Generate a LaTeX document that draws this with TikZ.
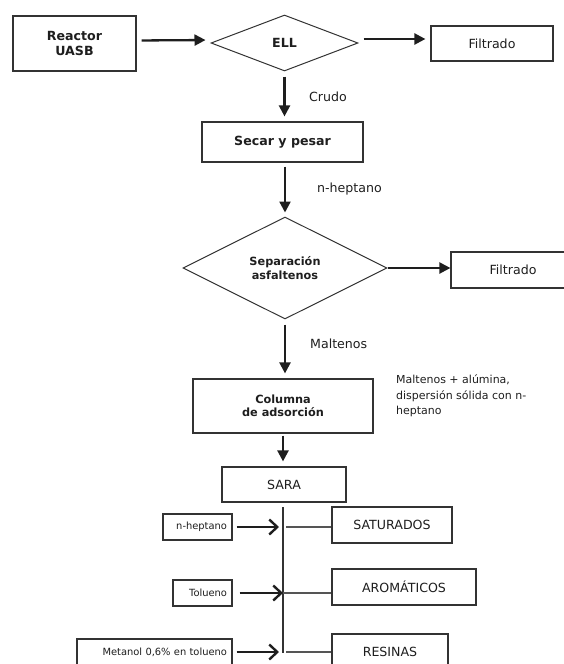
\documentclass[tikz,border=0pt]{standalone}
\usepackage{fontspec}
\setmainfont{DejaVu Sans}
\usetikzlibrary{arrows.meta,shapes.geometric}
\definecolor{ink}{HTML}{1E1E1E}
\definecolor{edge}{HTML}{333333}
\definecolor{wire}{HTML}{555555}
\newcommand{\mainsize}{\fontsize{12.6}{15}\selectfont}
\newcommand{\midsize}{\fontsize{11.3}{13.5}\selectfont}
\newcommand{\notesize}{\fontsize{11}{15.5}\selectfont}
\newcommand{\tinysize}{\fontsize{9.9}{12}\selectfont}
\tikzset{
 every node/.append style={font=\mainsize,text=ink,align=center},
 box/.style={draw=edge,fill=white,line width=1.2pt,inner sep=0pt},
 stage/.style={box,font=\mainsize\bfseries},
 decision/.style={draw=edge,fill=white,line width=1pt,shape=diamond,aspect=2,inner sep=0pt,font=\mainsize\bfseries},
 reagent/.style={box,font=\tinysize,align=right,inner xsep=5pt,minimum height=26pt},
 word/.style={inner sep=1pt,anchor=west},
 flow/.style={-{Triangle[length=11pt,width=11pt]},draw=ink,line width=2.3pt,shorten <=5pt,shorten >=5pt},
 feed/.style={-{Straight Barb[length=8pt,width=15pt]},draw=ink,line width=2.4pt,shorten <=4pt},
 trunk/.style={draw=edge,line width=1.3pt},
 tap/.style={draw=wire,line width=1.1pt},
}

\begin{document}
\begin{tikzpicture}[x=1pt,y=-1pt]
\useasboundingbox (0,0) rectangle (564,664);

% main line
\node[stage,minimum width=123pt,minimum height=55pt] (reactor) at (74.5,43.5) {Reactor\\UASB};
\node[decision,minimum width=147pt,minimum height=56pt] (ell) at (284.5,43) {ELL};
\node[box,minimum width=122pt,minimum height=35pt] (filtA) at (492,43.5) {Filtrado};
\node[stage,minimum width=161pt,minimum height=40pt] (secar) at (282.5,142) {Secar y pesar};
\node[decision,font=\midsize\bfseries,minimum width=204pt,minimum height=102pt] (sep) at (285,268) {Separación\\asfaltenos};
\node[box,minimum width=124pt,minimum height=36pt] (filtB) at (513,270) {Filtrado};
\node[stage,font=\midsize\bfseries,minimum width=180pt,minimum height=54pt] (column) at (283,406) {Columna\\de adsorción};
\node[word,anchor=north west,align=left,font=\notesize] (note) at (395,373.5) {Maltenos + alúmina,\\dispersión sólida con n-\\heptano};
\node[box,minimum width=124pt,minimum height=35pt] (sara) at (284,484.5) {SARA};

\draw[flow] ([yshift=3pt]reactor.east) -- ([yshift=3pt]ell.west);
\draw[flow] ([yshift=4pt]ell.east) -- ([yshift=4pt]ell.east -| filtA.west);
\draw[flow] (ell.south) -- (ell.south |- secar.north);
\draw[flow,shorten <=4pt,shorten >=4pt] (secar.south -| sep.north) -- (sep.north);
\draw[flow,shorten <=0pt,shorten >=0pt] (sep.east) -- (sep.east -| filtB.west);
\draw[flow] (sep.south) -- (sep.south |- column.north);
\draw[flow,shorten <=2pt] (column.south) -- (column.south |- sara.north);

\node[word] (crudo) at (308,97) {Crudo};
\node[word] (hepA) at (316,189) {n-heptano};
\node[word] (malt) at (309,344) {Maltenos};

% SARA fractions
\coordinate (trunktop) at (283,507);
\coordinate (trunkbot) at (283,653);
\draw[trunk] (trunktop) -- (trunkbot);

\node[reagent,text width=59pt] (hep) at (197.5,527) {n-heptano};
\node[reagent,text width=49pt] (tol) at (202.5,593) {Tolueno};
\node[reagent,text width=145pt] (met) at (154.5,652) {Metanol 0,6\% en tolueno};

\node[box,minimum width=120pt,minimum height=36pt] (sat) at (392,525) {SATURADOS};
\node[box,minimum width=144pt,minimum height=36pt] (aro) at (404,587) {AROMÁTICOS};
\node[box,minimum width=116pt,minimum height=36pt] (res) at (390,652) {RESINAS};

\draw[feed,shorten >=4pt] (hep.east) -- (hep.east -| trunktop);
\draw[feed,shorten <=7pt] (tol.east) -- (tol.east -| trunktop);
\draw[feed,shorten >=4pt] (met.east) -- (met.east -| trunktop);

\draw[tap,shorten <=3pt] (hep.east -| trunktop) -- (hep.east -| sat.west);
\draw[tap] (tol.east -| trunktop) -- (tol.east -| aro.west);
\draw[tap,shorten <=3pt] (met.east -| trunktop) -- (met.east -| res.west);

\end{tikzpicture}
\end{document}
